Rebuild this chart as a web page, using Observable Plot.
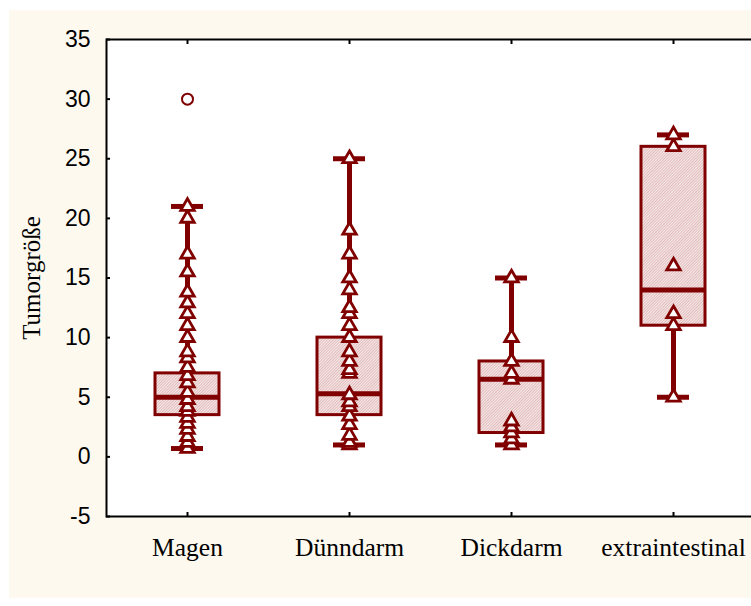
<!DOCTYPE html>
<html><head><meta charset="utf-8">
<script src="https://cdn.jsdelivr.net/npm/d3@7"></script>
<script src="https://cdn.jsdelivr.net/npm/@observablehq/plot@0.6"></script>
<style>
html,body{margin:0;padding:0;background:#fff;overflow:hidden;width:751px;height:606px}
#panel{position:absolute;left:9px;top:10px;width:742px;height:588px;background:#fdf9ef;overflow:hidden}
</style></head><body><div id="panel"></div>
<script>
const categories = ["Magen", "Dünndarm", "Dickdarm", "extraintestinal"];
const magen = [0.7, 1.2, 1.7, 2.3, 2.8, 3.3, 3.8, 4.2, 4.8, 5.4, 6.2, 6.8, 7.5, 8.3, 8.8, 10, 11, 12, 12.9, 13.8, 15.5, 17, 20, 21];
const duenndarm = [1, 1.2, 1.8, 2.7, 3.4, 4.2, 4.6, 5.2, 7, 7.3, 8, 8.8, 10, 11, 12, 12.5, 14, 15, 17, 19, 25];
const dickdarm = [1, 1.5, 2, 2.5, 3, 6.5, 7, 8, 10, 15];
const extra = [5, 11, 12, 16, 26, 27];
const q1 = [3.5, 3.5, 2, 11];
const median = [5, 5.3, 6.5, 14];
const q3 = [7, 10, 8, 26];
const whiskerLow = [0.7, 1, 1, 5];
const whiskerHigh = [21, 25, 15, 27];
const outlierCat = ["Magen"];
const outlierVal = [30];
const yTicks = [-5, 0, 5, 10, 15, 20, 25, 30, 35];

const series = [magen, duenndarm, dickdarm, extra];
const points = series.flatMap((vals, i) => vals.map(v => ({cat: categories[i], value: v})));
const stats = categories.map((c, i) => ({cat: c, q1: q1[i], median: median[i], q3: q3[i], lo: whiskerLow[i], hi: whiskerHigh[i]}));
const outliers = outlierCat.map((c, i) => ({cat: c, value: outlierVal[i]}));

const dark = "#800000";
const plot = Plot.plot({
  width: 742, height: 588,
  marginLeft: 97, marginRight: -3, marginTop: 29, marginBottom: 82,
  style: {background: "transparent", overflow: "visible"},
  x: {domain: categories, padding: 0, label: null},
  y: {domain: [-5, 35], label: null},
  marks: [
    Plot.frame({fill: "white"}),
    Plot.ruleX(stats, {x: "cat", y1: "lo", y2: "hi", stroke: dark, strokeWidth: 5}),
    Plot.barY(stats, {x: "cat", y1: "q1", y2: "q3", fill: "url(#hatch)", stroke: dark, strokeWidth: 3, insetLeft: 49, insetRight: 49}),
    Plot.tickY(stats, {x: "cat", y: "median", stroke: dark, strokeWidth: 5, inset: 49}),
    Plot.tickY(stats, {x: "cat", y: "lo", stroke: dark, strokeWidth: 5, inset: 65}),
    Plot.tickY(stats, {x: "cat", y: "hi", stroke: dark, strokeWidth: 5, inset: 65}),
    Plot.dot(points, {x: "cat", y: "value", symbol: "triangle", r: 5, fill: "white", stroke: dark, strokeWidth: 2.8}),
    Plot.dot(outliers, {x: "cat", y: "value", symbol: "circle", r: 5.5, fill: "white", stroke: dark, strokeWidth: 2}),
    Plot.frame({stroke: "black", strokeWidth: 2}),
    Plot.axisY(yTicks, {anchor: "left", tickSize: -4, tickPadding: 20, tickFormat: d => String(d), fontSize: 23, fontFamily: "Liberation Sans, Arial, sans-serif", label: null, strokeWidth: 2}),
    Plot.axisY(yTicks, {anchor: "left", tickSize: 0, tickFormat: () => "", label: "Tumorgröße", labelAnchor: "center", labelArrow: "none", labelOffset: 84, fontSize: 25, fontFamily: "Liberation Serif, Times New Roman, serif"}),
    Plot.axisY(yTicks, {anchor: "right", tickSize: -4, tickFormat: () => "", label: null, strokeWidth: 2}),
    Plot.axisX({anchor: "bottom", tickSize: -4, tickPadding: 25, fontSize: 25.5, fontFamily: "Liberation Serif, Times New Roman, serif", label: null, strokeWidth: 2}),
    Plot.axisX({anchor: "top", tickSize: -4, tickFormat: () => "", label: null, strokeWidth: 2})
  ]
});

const svg = d3.select(plot);
const pat = svg.insert("defs", ":first-child").append("pattern")
  .attr("id", "hatch").attr("patternUnits", "userSpaceOnUse")
  .attr("width", 2).attr("height", 2).attr("patternTransform", "rotate(45)");
pat.append("rect").attr("width", 2).attr("height", 2).attr("fill", "#f7e9e9");
pat.append("line").attr("x1", 0.5).attr("y1", 0).attr("x2", 0.5).attr("y2", 2).attr("stroke", "#dcb0b0").attr("stroke-width", 0.8);

document.getElementById("panel").appendChild(plot);
</script></body></html>
